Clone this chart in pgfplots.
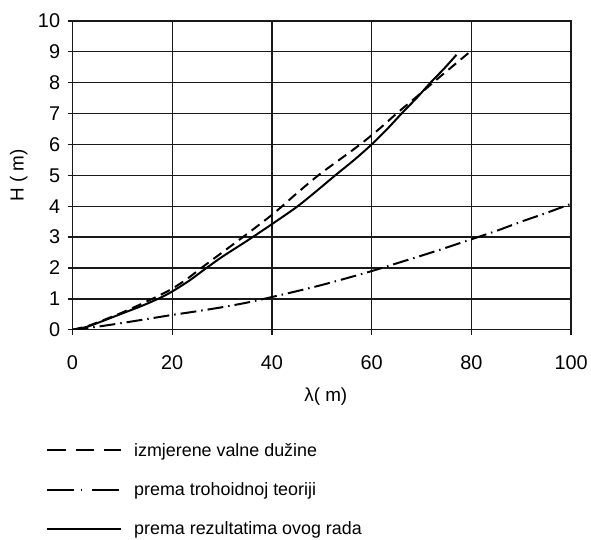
\documentclass[border=0pt]{standalone}
\usepackage{fontspec}
\setmainfont{Liberation Sans}
\usepackage{pgfplots}
\pgfplotsset{compat=1.18}
\begin{document}
\begin{tikzpicture}
  \begin{axis}[
      scale only axis, width=502bp, height=311bp,
      xmin=0, xmax=100, ymin=0, ymax=10,
      xtick={0,20,...,100}, ytick={0,1,...,10},
      xtick pos=left, ytick pos=left,
      grid=major,
      grid style={black!90, line width=1.3bp},
      axis line style={black!90, line width=1.3bp},
      tick align=outside, major tick length=5bp,
      tick style={black!90, line width=1.3bp},
      /pgf/number format/assume math mode=true,
      ticklabel style={font=\fontsize{20bp}{22bp}\selectfont},
      xticklabel style={yshift=-18bp},
      yticklabel style={xshift=-4bp},
      xlabel={λ( m)}, ylabel={H ( m)},
      label style={font=\fontsize{19bp}{22bp}\selectfont},
      xlabel style={at={(axis description cs:0.508,-0.215)}, anchor=center},
      ylabel style={at={(axis description cs:-0.108,0.5)}, anchor=center},
      legend cell align=left,
      legend image code/.code={\draw[#1] (0bp,0bp) -- (75bp,0bp);},
      legend style={at={(axis description cs:-0.054,-0.36)}, anchor=north west,
                    draw=none, fill=none, inner sep=0pt,
                    font=\fontsize{18bp}{20bp}\selectfont,
                    column sep=10bp, row sep=21bp},
    ]

    % izmjerene valne duzine
    \addplot[black, line width=2bp, dash pattern=on 10bp off 6bp, smooth, forget plot]
      coordinates {(0,0) (3,0.12) (6,0.3) (10,0.56) (14,0.85) (17,1.08) (20,1.33)
        (23,1.65) (26,2.02) (30,2.5) (35,3.1) (40,3.72) (41.7,3.95) (45,4.42)
        (49.3,5.0) (53.5,5.5) (57.7,6.0) (61.5,6.5) (65,7.0) (68.7,7.5)
        (72.3,8.0) (76,8.5) (79.5,8.97)};

    % prema trohoidnoj teoriji
    \addplot[black, line width=2bp, dash pattern=on 16bp off 5bp on 1.5bp off 5bp, smooth, forget plot]
      coordinates {(0,0) (5,0.1) (10,0.22) (15,0.35) (20,0.48) (25,0.6) (30,0.73)
        (35,0.88) (40,1.06) (45,1.25) (50,1.45) (55,1.67) (60,1.9) (65,2.15)
        (70,2.4) (75,2.66) (80,2.93) (85,3.2) (90,3.5) (95,3.78) (100,4.08)};

    % prema rezultatima ovog rada
    \addplot[black, line width=2bp, smooth, forget plot]
      coordinates {(0,0) (3,0.1) (6,0.28) (10,0.53) (14,0.78) (17.4,1.02) (20,1.24)
        (23.5,1.6) (26.7,1.98) (30,2.36) (35,2.88) (40,3.42) (45,3.98) (49,4.5)
        (52.7,5.0) (56.5,5.5) (60,6.0) (63,6.48) (66,7.0) (69,7.5) (71.8,8.0)
        (74.5,8.45) (77,8.9)};

    \addlegendimage{black, line width=2bp, dash pattern=on 19bp off 10bp}
    \addlegendentry{izmjerene valne dužine}
    \addlegendimage{black, line width=2bp, dash pattern=on 27bp off 7bp on 1.5bp off 10bp}
    \addlegendentry{prema trohoidnoj teoriji}
    \addlegendimage{black, line width=2bp}
    \addlegendentry{prema rezultatima ovog rada}
  \end{axis}
  \path ([shift={(-73bp,-211bp)}]current axis.south west)
    rectangle ([shift={(518bp,332bp)}]current axis.south west);
\end{tikzpicture}
\end{document}
